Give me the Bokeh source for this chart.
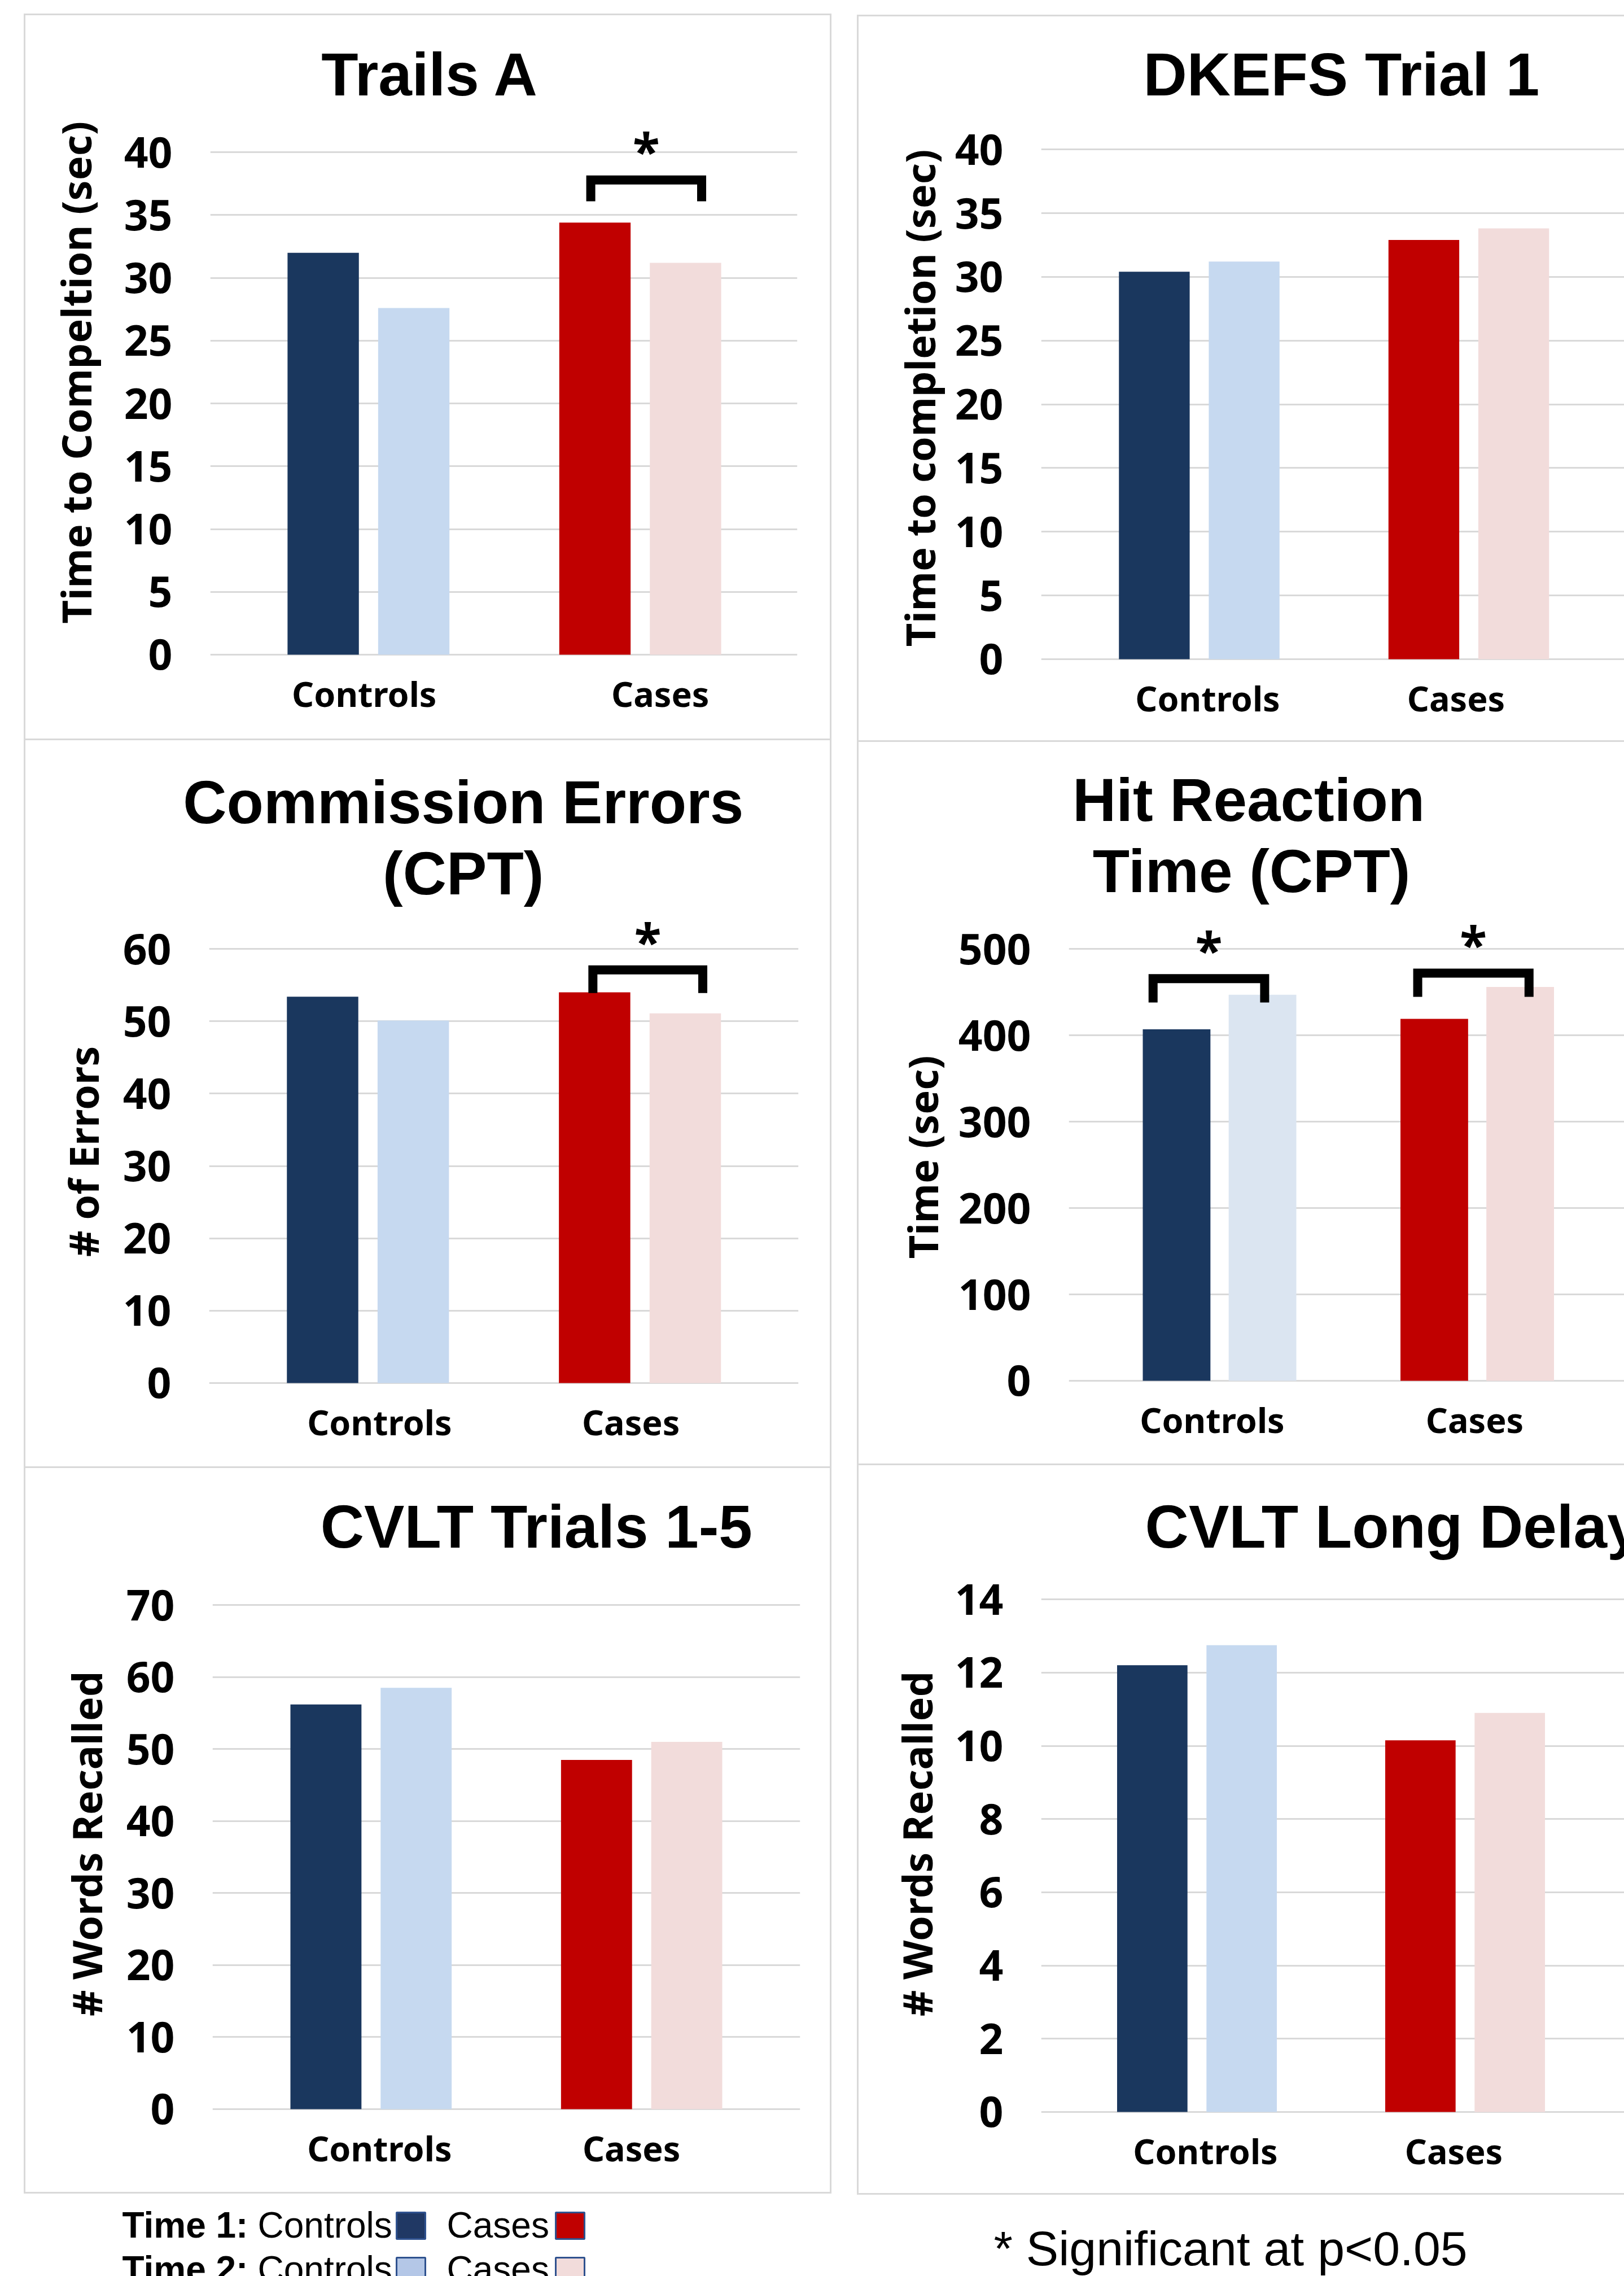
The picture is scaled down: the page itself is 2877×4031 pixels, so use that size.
import math
from bokeh.plotting import figure
from bokeh.models import Range1d, FixedTicker, ColumnDataSource
from bokeh.layouts import column, row
from bokeh.transform import dodge
from bokeh.core.properties import value
from bokeh.embed import file_html
from bokeh.resources import INLINE

# ---------------- data ----------------
categories = ["Controls", "Cases"]

trails_time1 = [32.0, 34.4]
trails_time2 = [27.6, 31.2]
trails_ticks = [0, 5, 10, 15, 20, 25, 30, 35, 40]

dkefs_time1 = [30.4, 32.9]
dkefs_time2 = [31.2, 33.8]
dkefs_ticks = [0, 5, 10, 15, 20, 25, 30, 35, 40]

commission_time1 = [53.4, 54.0]
commission_time2 = [50.1, 51.1]
commission_ticks = [0, 10, 20, 30, 40, 50, 60]

hit_time1 = [407, 419]
hit_time2 = [447, 456]
hit_ticks = [0, 100, 200, 300, 400, 500]

cvlt15_time1 = [56.2, 48.5]
cvlt15_time2 = [58.5, 51.0]
cvlt15_ticks = [0, 10, 20, 30, 40, 50, 60, 70]

cvltld_time1 = [12.2, 10.15]
cvltld_time2 = [12.75, 10.9]
cvltld_ticks = [0, 2, 4, 6, 8, 10, 12, 14]

# significance brackets: (category, bracket height, leg end)
trails_sig = [("Cases", 37.8, 36.1)]
commission_sig = [("Cases", 57.1, 53.9)]
hit_sig = [("Controls", 465.6, 438.0), ("Cases", 472.1, 444.6)]

legend_rows = ["Time 1:", "Time 2:"]
sig_note = "* Significant at p<0.05"

# ---------------- styles ----------------
COL_T1 = ["#1a375e", "#c00000"]
COL_T2 = ["#c6d9f0", "#f2dcdb"]
COL_T2_HIT = ["#dbe5f1", "#f2dcdb"]
LEG_T1 = ["#203864", "#c00000"]
LEG_T2 = ["#b4c7e7", "#f2dcdb"]
GRID = "#d9d9d9"
BW = 3
BRD = "3px solid #d9d9d9"
AX_FONT = "Noto Sans"
TI_FONT = "Liberation Sans"
OFF = 1.0 / 6.0
BAR_W = 0.2625
YLAB_DX, YLAB_DY = -8, 62      # calibration of rotated label anchor
STAR_RISE = 52                  # star anchor above bracket line (px)

# layout constants in page pixels: outer box (x0, x1, y0, y1), split lines, frame geometry
specs = {
    "trails": dict(outer=(42, 1473, 24, 1311), split_y=205, split_x=200,
                   b_title=("top", "left", "right"), b_ylab=("left", "bottom"), b_chart=("right", "bottom"),
                   frame_x=(372, 1409), zero_y=1156, top_tick_y=269, gc0=651.5, spacing=480,
                   xlab=(644, 1167), titles=[("Trails A", 759, 130)], talign="center",
                   ylab=(140, 667), brk=[(-0.182, 0.226)]),
    "dkefs": dict(outer=(1518, 2877, 26, 1314), split_y=205, split_x=1682,
                  b_title=("top", "left"), b_ylab=("left", "bottom"), b_chart=("bottom",),
                  frame_x=(1844, 2877), zero_y=1164, top_tick_y=264, gc0=2124, spacing=477.5,
                  xlab=(2139, 2579), titles=[("DKEFS Trial 1", 2374, 130)], talign="center",
                  ylab=(1635, 716), brk=[]),
    "commission": dict(outer=(42, 1473, 1311, 2600), split_y=1625, split_x=200,
                       b_title=("left", "right"), b_ylab=("left", "bottom"), b_chart=("right", "bottom"),
                       frame_x=(370, 1411), zero_y=2446, top_tick_y=1680, gc0=650.5, spacing=480.5,
                       xlab=(671, 1115),
                       titles=[("Commission Errors", 817, 1420), ("(CPT)", 817, 1546)], talign="center",
                       ylab=(153, 2050), brk=[(-0.173, 0.231)]),
    "hit": dict(outer=(1518, 2877, 1314, 2595), split_y=1620, split_x=1685,
                b_title=("left",), b_ylab=("left", "bottom"), b_chart=("bottom",),
                frame_x=(1893, 2877), zero_y=2442, top_tick_y=1680, gc0=2160, spacing=456.5,
                xlab=(2147, 2612),
                titles=[("Hit Reaction", 2210, 1416), ("Time (CPT)", 2215, 1542)], talign="center",
                ylab=(1639, 2062), brk=[(-0.258, 0.175), (-0.231, 0.201)]),
    "cvlt15": dict(outer=(42, 1473, 2600, 3885), split_y=2785, split_x=205,
                   b_title=("left", "right"), b_ylab=("left", "bottom"), b_chart=("right", "bottom"),
                   frame_x=(376, 1414), zero_y=3732, top_tick_y=2842, gc0=656, spacing=478,
                   xlab=(671, 1116), titles=[("CVLT Trials 1-5", 946, 2703)], talign="center",
                   ylab=(159, 3276), brk=[]),
    "cvltld": dict(outer=(1518, 2877, 2595, 3887), split_y=2790, split_x=1682,
                   b_title=("left",), b_ylab=("left", "bottom"), b_chart=("bottom",),
                   frame_x=(1844, 2877), zero_y=3737, top_tick_y=2832, gc0=2120, spacing=475,
                   xlab=(2135, 2575), titles=[("CVLT Long Delay", 2027, 2703)], talign="left",
                   ylab=(1630, 3274), brk=[]),
}


def css(sides):
    return {f"border-{s}": BRD for s in sides}


def inner(x0, x1, y0, y1, sides):
    return (x0 + (BW if "left" in sides else 0), x1 - (BW if "right" in sides else 0),
            y0 + (BW if "top" in sides else 0), y1 - (BW if "bottom" in sides else 0))


def strip(x0, x1, y0, y1, sides):
    cx0, cx1, cy0, cy1 = inner(x0, x1, y0, y1, sides)
    f = figure(width=x1 - x0, height=y1 - y0, x_range=Range1d(cx0, cx1), y_range=Range1d(cy1, cy0),
               output_backend="svg", toolbar_location=None, title=None,
               x_axis_type=None, y_axis_type=None, min_border=0, outline_line_color=None,
               background_fill_color="white", border_fill_color="white", styles=css(sides))
    return f


def build_panel(spec, t1, t2, ticks, c1, c2, ylabel, sig=None):
    X0, X1, Y0, Y1 = spec["outer"]
    sy_, sx_ = spec["split_y"], spec["split_x"]

    # --- title strip ---
    tf = strip(X0, X1, Y0, sy_, spec["b_title"])
    tf.text(x=[t[1] for t in spec["titles"]], y=[t[2] for t in spec["titles"]],
            text=[t[0] for t in spec["titles"]], text_align=spec["talign"], text_baseline="middle",
            text_font=value(TI_FONT), text_font_style="bold", text_font_size="107px", text_color="black")

    # --- y label strip ---
    yf = strip(X0, sx_, sy_, Y1, spec["b_ylab"])
    yf.text(x=[spec["ylab"][0] + YLAB_DX], y=[spec["ylab"][1] + YLAB_DY], text=[ylabel], angle=math.pi / 2,
            text_align="center", text_baseline="middle", text_font=value(AX_FONT),
            text_font_style="bold", text_font_size="72px", text_color="black")

    # --- chart ---
    cx0, cx1, cy0, cy1 = inner(sx_, X1, sy_, Y1, spec["b_chart"])
    FL, FR = spec["frame_x"]
    Z, TY = spec["zero_y"], spec["top_tick_y"]
    ppu = (Z - TY) / ticks[-1]
    GC0, S = spec["gc0"], spec["spacing"]

    def X(px):
        return (px - GC0) / S

    def Y(py):
        return (Z - py) / ppu

    p = figure(width=X1 - sx_, height=Y1 - sy_, x_range=Range1d(X(FL), X(FR)),
               y_range=Range1d(Y(Z + 2), Y(cy0)),
               output_backend="svg", toolbar_location=None, title=None,
               min_border_left=FL - cx0, min_border_right=cx1 - FR, min_border_top=0,
               min_border_bottom=cy1 - (Z + 2),
               background_fill_color="white", border_fill_color="white",
               outline_line_color=None, styles=css(spec["b_chart"]))

    src = ColumnDataSource(dict(idx=list(range(len(categories))), t1=t1, t2=t2, c1=c1, c2=c2))
    p.vbar(x=dodge("idx", -OFF), top="t1", bottom=0, width=BAR_W, fill_color="c1", line_color=None, source=src)
    p.vbar(x=dodge("idx", OFF), top="t2", bottom=0, width=BAR_W, fill_color="c2", line_color=None, source=src)

    p.yaxis.ticker = FixedTicker(ticks=ticks)
    p.ygrid.ticker = FixedTicker(ticks=ticks)
    p.ygrid.grid_line_color = GRID
    p.ygrid.grid_line_width = 3
    p.xgrid.visible = False
    for ax in (p.xaxis, p.yaxis):
        ax.axis_line_color = None
        ax.major_tick_line_color = None
        ax.minor_tick_line_color = None
        ax.major_tick_out = 0
        ax.major_tick_in = 0
        ax.major_label_text_font = AX_FONT
        ax.major_label_text_font_style = "bold"
        ax.major_label_text_color = "black"
    p.yaxis.major_label_text_font_size = "75px"
    p.yaxis.major_label_standoff = 67

    xt = [round(X(v), 6) for v in spec["xlab"]]
    p.xaxis.ticker = FixedTicker(ticks=xt)
    p.xaxis.major_label_overrides = {xt[i]: categories[i] for i in range(len(categories))}
    p.xaxis.major_label_text_font_size = "61px"
    p.xaxis.major_label_standoff = 25

    if sig:
        xs, ys, sx, sy = [], [], [], []
        for (cat, top_v, leg_v), (lo, ro) in zip(sig, spec["brk"]):
            i = categories.index(cat)
            xl, xr = i + lo, i + ro
            xs.append([xl, xl, xr, xr])
            ys.append([leg_v, top_v, top_v, leg_v])
            sx.append((xl + xr) / 2)
            sy.append(top_v + STAR_RISE / ppu)
        p.multi_line(xs, ys, line_color="black", line_width=16, line_join="miter", line_cap="butt")
        p.text(x=sx, y=sy, text=["*"] * len(sx), text_align="center", text_baseline="middle",
               text_font=value(AX_FONT), text_font_style="bold", text_font_size="88px", text_color="black")

    return column(tf, row(yf, p))


g1 = build_panel(specs["trails"], trails_time1, trails_time2, trails_ticks, COL_T1, COL_T2,
                 "Time to Compeltion (sec)", trails_sig)
g2 = build_panel(specs["dkefs"], dkefs_time1, dkefs_time2, dkefs_ticks, COL_T1, COL_T2,
                 "Time to completion (sec)")
g3 = build_panel(specs["commission"], commission_time1, commission_time2, commission_ticks, COL_T1, COL_T2,
                 "# of Errors", commission_sig)
g4 = build_panel(specs["hit"], hit_time1, hit_time2, hit_ticks, COL_T1, COL_T2_HIT,
                 "Time (sec)", hit_sig)
g5 = build_panel(specs["cvlt15"], cvlt15_time1, cvlt15_time2, cvlt15_ticks, COL_T1, COL_T2,
                 "# Words Recalled")
g6 = build_panel(specs["cvltld"], cvltld_time1, cvltld_time2, cvltld_ticks, COL_T1, COL_T2,
                 "# Words Recalled")

# ---------------- bottom legend strip (page coordinates) ----------------
LG_Y0, LG_Y1 = 3887, 4031
lg = strip(0, 2877, LG_Y0, LG_Y1, ())
row_mid = [3940, 4018]
box_top = [3918, 3998]
lg.text(x=[216, 216], y=row_mid, text=legend_rows, text_font=value(TI_FONT), text_font_style="bold",
        text_font_size="64px", text_baseline="middle", text_color="black")
lg.text(x=[456, 791, 456, 791], y=[row_mid[0], row_mid[0], row_mid[1], row_mid[1]],
        text=categories * 2, text_font=value(TI_FONT), text_font_size="64px",
        text_baseline="middle", text_color="black")
lg.quad(left=[702, 984, 702, 984], right=[753, 1035, 753, 1035],
        top=[box_top[0], box_top[0], box_top[1], box_top[1]],
        bottom=[box_top[0] + 47, box_top[0] + 47, box_top[1] + 47, box_top[1] + 47],
        fill_color=LEG_T1 + LEG_T2, line_color="#2f528f", line_width=3)
lg.text(x=[1760], y=[3981], text=[sig_note], text_font=value(TI_FONT), text_font_size="86px",
        text_baseline="middle", text_color="black")

colL = column(g1, g3, g5, margin=(24, 0, 0, 42))
colR = column(g2, g4, g6, margin=(26, 0, 0, 0))
top = row(colL, colR, spacing=45)
page = column(top, lg)

open("out.html", "w").write(file_html(page, INLINE))
